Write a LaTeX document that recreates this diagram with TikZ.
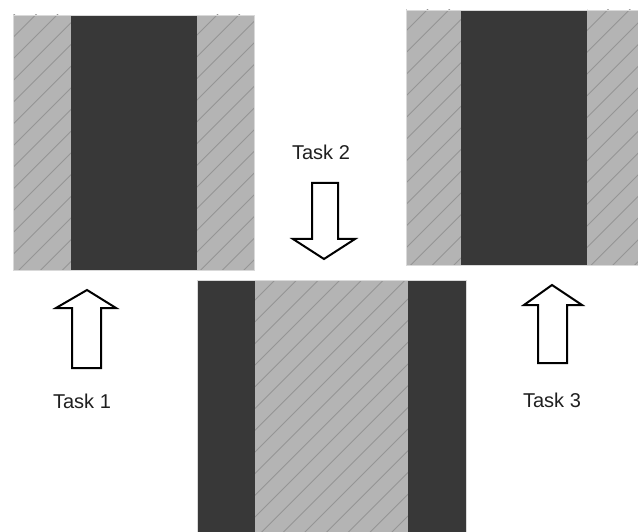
\documentclass[tikz,border=0pt]{standalone}
\usepackage{fontspec}
\setmainfont{Liberation Sans}
\begin{document}
\begin{tikzpicture}[x=1pt,y=-1pt,
  hatchfill/.style={fill=hatchgray},
  darkfill/.style={fill=darkgray0},
  hatchline/.style={draw=hatchline0,line width=0.9pt},
  blockarrow/.style={draw=black,fill=white,line width=2pt,line join=miter},
  tasklabel/.style={font=\fontsize{20}{24}\selectfont,text=black!88,inner sep=0pt}]
\definecolor{hatchgray}{HTML}{B4B4B4}
\definecolor{darkgray0}{HTML}{383838}
\definecolor{hatchline0}{HTML}{959595}
\useasboundingbox (0,0) rectangle (638,532);
\fill[white] (0,0) rectangle (638,532);
% hatched regions
\foreach \xa/\ya/\xb/\yb/\ph in {13/15/71/270/7, 197/15/254/270/15, 406/10/461/265/3, 587/10/638/265/10, 255/280/408/532/12.5}{
  \fill[hatchfill] (\xa,\ya) rectangle (\xb,\yb);
  \begin{scope}
    \clip (\xa,\ya) rectangle (\xb,\yb);
    \foreach \k in {0,...,58}{
      \pgfmathsetmacro{\c}{\ph+21.7*\k}
      \draw[hatchline] (\c,0) -- (0,\c);
    }
  \end{scope}
}
\foreach \xa/\ya/\xb/\yb in {71/15/197/270, 461/10/587/265, 197/280/255/532, 408/280/466/532}{
  \fill[darkfill] (\xa,\ya) rectangle (\xb,\yb);
}
\draw[gray!30,line width=0.6pt] (13,15) rectangle (254,270);
\draw[gray!30,line width=0.6pt] (406,10) rectangle (638,265);
\draw[gray!30,line width=0.6pt] (197,280) rectangle (466,532);
% arrows
\draw[blockarrow] (72,368) -- (72,308) -- (56,308) -- (87,290) -- (116,308) -- (101,308) -- (101,368) -- cycle;
\draw[blockarrow] (312,183) -- (338,183) -- (338,239) -- (355,239) -- (324,259) -- (293,239) -- (312,239) -- cycle;
\draw[blockarrow] (538,363) -- (538,305) -- (524,305) -- (552,285) -- (582,305) -- (567,305) -- (567,363) -- cycle;
% labels
\node[tasklabel] (t1) at (82,401) {Task 1};
\node[tasklabel] (t2) at (321,152.5) {Task 2};
\node[tasklabel] (t3) at (552,400) {Task 3};
\end{tikzpicture}
\end{document}
